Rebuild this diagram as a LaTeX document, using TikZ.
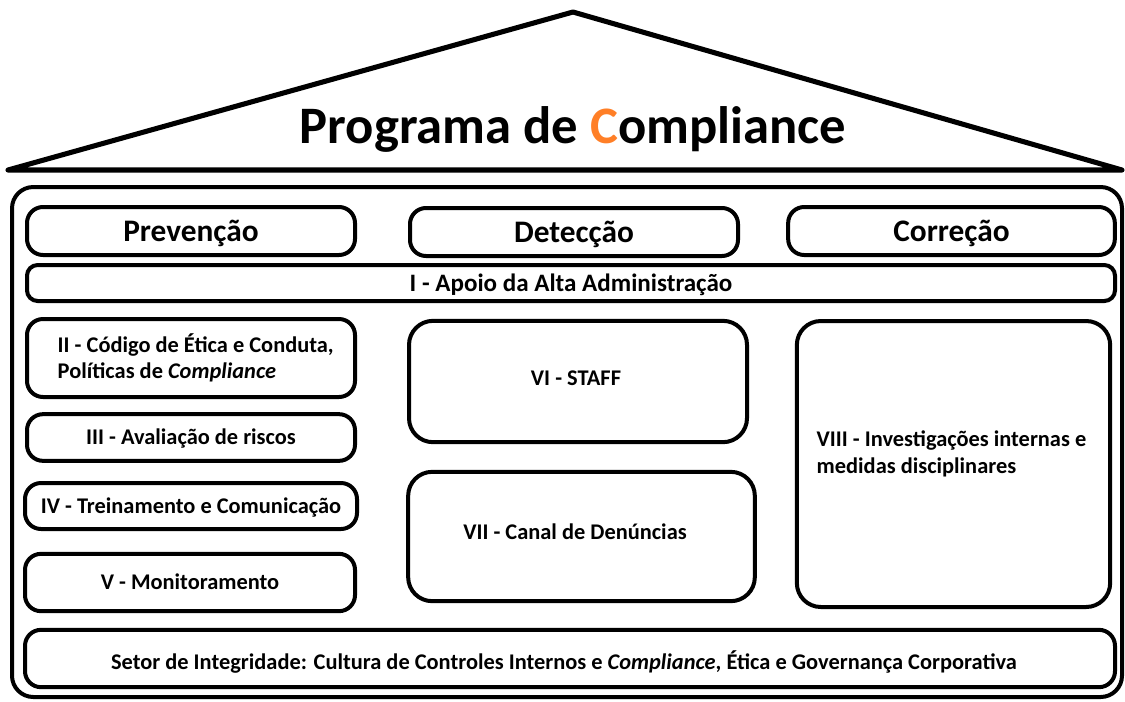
\documentclass[tikz,border=0pt]{standalone}
\usepackage{fontspec}
\setmainfont{Carlito}
\definecolor{corange}{HTML}{FF7F27}
\begin{document}
\begin{tikzpicture}[x=0.75pt,y=-0.75pt,
  bx/.style={draw,line width=3pt,rounded corners=12pt,inner sep=0pt,font=\bfseries},
  big/.style={bx,rounded corners=18pt},
  hdr/.style={font=\fontsize{23.5}{28}\selectfont\bfseries,text height=15pt,text depth=0pt},
  body/.style={font=\fontsize{16.8}{20}\selectfont\bfseries},
  one/.style={text height=10.8pt,text depth=0pt}]
\useasboundingbox (0,0) rectangle (1125,701);
% roof
\draw[line width=3.8pt,line join=round] (8,170) -- (573,12) -- (1122,170) -- cycle;
\node (title) at (573,129) {\fontsize{39.5}{46}\selectfont\bfseries Programa de {\color{corange}C}ompliance};
% outer body
\draw[line width=3pt,rounded corners=16pt] (12,187) rectangle (1122,697);
% headers
\node[bx,hdr,minimum width=246pt,minimum height=36pt] (prev) at (191,231) {Prevenção};
\node[bx,hdr,minimum width=246pt,minimum height=36pt] (det) at (574,232) {Detecção};
\node[bx,hdr,minimum width=245pt,minimum height=36pt] (cor) at (951.5,231) {Correção};
\node[bx,rounded corners=8pt,minimum width=816pt,minimum height=27pt,font=\fontsize{18.8}{22}\selectfont\bfseries,text height=12.1pt,text depth=0pt] (apoio) at (571,283) {I - Apoio da Alta Administração};
% prevention column
\node[bx,minimum width=246pt,minimum height=58.5pt] (ii) at (191,358) {};
\node[body,anchor=west,align=left] (iit) at (53,358) {II - Código de Ética e Conduta,\\Políticas de \textit{Compliance}};
\node[bx,body,one,minimum width=246pt,minimum height=35pt] (iii) at (191,437.5) {III - Avaliação de riscos};
\node[bx,body,one,minimum width=249pt,minimum height=34.5pt] (iv) at (191,506) {IV - Treinamento e Comunicação};
\node[bx,body,one,minimum width=247.5pt,minimum height=43pt] (v) at (190,582.5) {V - Monitoramento};
% detection column
\node[big,body,one,minimum width=253.5pt,minimum height=91pt] (vi) at (578,381.5) {};
\node[body,one] (vit) at (576,378) {VI - STAFF};
\node[big,body,one,minimum width=260pt,minimum height=97pt] (vii) at (581.5,536.5) {};
\node[body,one] (viit) at (575,532) {VII - Canal de Denúncias};
% correction column
\node[big,minimum width=235pt,minimum height=214.5pt] (viii) at (953.5,464) {};
\node[body,anchor=west,align=left] (viiit) at (812,454) {VIII - Investigações internas e\\medidas disciplinares};
% foundation
\node[bx,body,one,rounded corners=12pt,minimum width=817.5pt,minimum height=43pt] (setor) at (570,658.5) {};
\node[body,one] (setort) at (564,662) {Setor de Integridade: Cultura de Controles Internos e \textit{Compliance}, Ética e Governança Corporativa};
\end{tikzpicture}
\end{document}
